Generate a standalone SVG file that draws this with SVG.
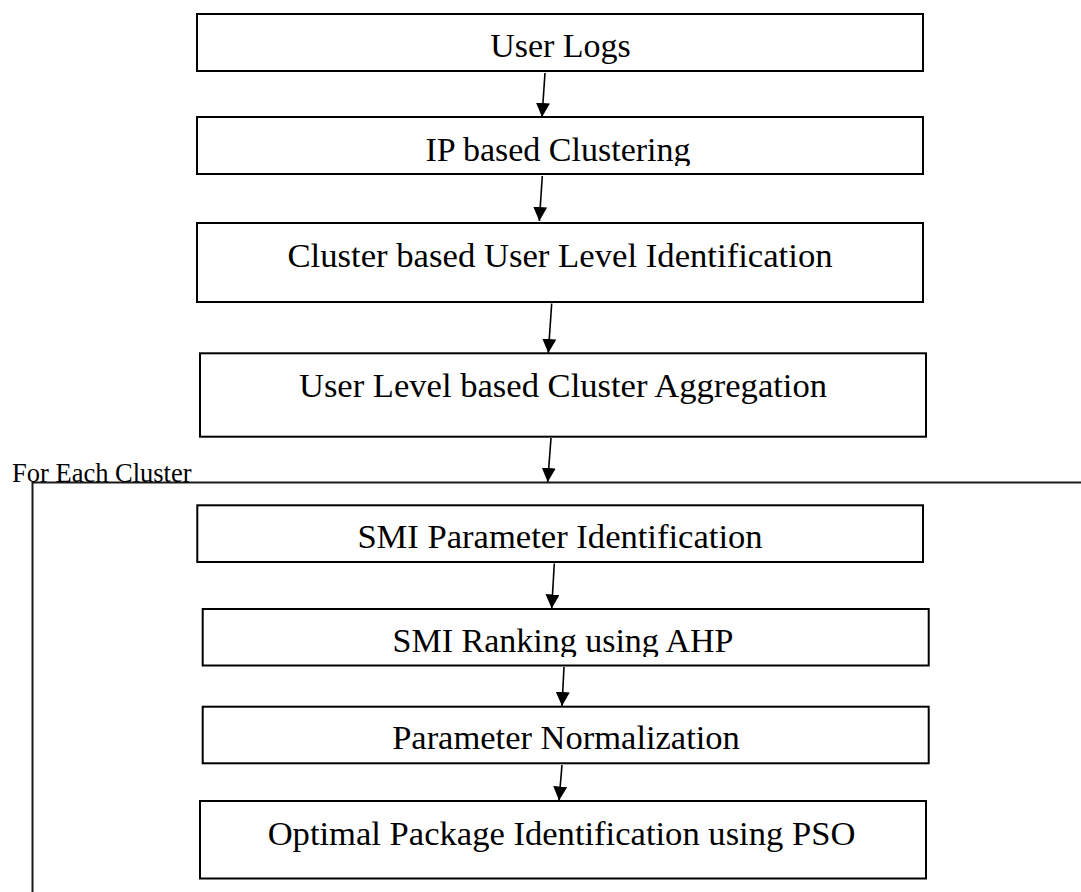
<svg xmlns="http://www.w3.org/2000/svg" width="1081" height="892" viewBox="0 0 1081 892">
  <style>
    .box { fill: #ffffff; stroke: #000000; stroke-width: 2; }
    .lbl { font-family: "Liberation Serif", "Times New Roman", serif; fill: #000000; text-anchor: middle; }
    .conn { stroke: #000000; stroke-width: 1.6; fill: none; marker-end: url(#arrow); }
    .frame { stroke: #1a1a1a; stroke-width: 2; fill: none; }
  </style>
  <defs>
    <marker id="arrow" markerUnits="userSpaceOnUse" markerWidth="14" markerHeight="14" viewBox="0 0 14 14" refX="14" refY="7" orient="auto">
      <path d="M0,0 L14,7 L0,14 Z" fill="#000000"/>
    </marker>
    <clipPath id="clip2"><rect x="197" y="117" width="726" height="49"/></clipPath>
    <clipPath id="clip6"><rect x="203" y="609" width="726" height="48"/></clipPath>
  </defs>
  <rect width="1081" height="892" fill="#ffffff"/>

  <g id="loop-frame">
    <path class="frame" d="M1081,482.5 L32.5,482.5 L32.5,892"/>
    <text x="12" y="481.5" font-family="Liberation Serif, serif" font-size="26.5">For Each Cluster</text>
  </g>

  <g id="node-user-logs">
    <rect class="box" x="197" y="14" width="726" height="57"/>
    <text class="lbl" x="560.5" y="57" font-size="34">User Logs</text>
  </g>
  <g id="node-ip-clustering">
    <rect class="box" x="197" y="117" width="726" height="57"/>
    <text class="lbl" x="558" y="160.7" font-size="34" clip-path="url(#clip2)">IP based Clustering</text>
  </g>
  <g id="node-user-level-id">
    <rect class="box" x="197" y="223" width="726" height="79"/>
    <text class="lbl" x="560" y="266.7" font-size="34.7">Cluster based User Level Identification</text>
  </g>
  <g id="node-cluster-aggregation">
    <rect class="box" x="200" y="353.3" width="726" height="83.4"/>
    <text class="lbl" x="563" y="396.7" font-size="34.6">User Level based Cluster Aggregation</text>
  </g>
  <g id="node-smi-param">
    <rect class="box" x="197.3" y="505.3" width="725.7" height="56.7"/>
    <text class="lbl" x="560" y="548.3" font-size="34.6">SMI Parameter Identification</text>
  </g>
  <g id="node-smi-ranking">
    <rect class="box" x="202.7" y="609" width="726" height="56.5"/>
    <text class="lbl" x="563" y="652.3" font-size="34" clip-path="url(#clip6)">SMI Ranking using AHP</text>
  </g>
  <g id="node-normalization">
    <rect class="box" x="202.7" y="706.7" width="726" height="56.6"/>
    <text class="lbl" x="566" y="749" font-size="34.5">Parameter Normalization</text>
  </g>
  <g id="node-pso">
    <rect class="box" x="200" y="801" width="726" height="77.5"/>
    <text class="lbl" x="561.5" y="845" font-size="34.6">Optimal Package Identification using PSO</text>
  </g>

  <g id="connectors">
    <line class="conn" x1="545" y1="73" x2="542" y2="117"/>
    <line class="conn" x1="542.3" y1="176" x2="539.3" y2="221"/>
    <line class="conn" x1="551.7" y1="303.5" x2="548.3" y2="353"/>
    <line class="conn" x1="551" y1="438" x2="547.7" y2="482"/>
    <line class="conn" x1="554.3" y1="563.5" x2="551.7" y2="608.5"/>
    <line class="conn" x1="564" y1="667" x2="562" y2="706"/>
    <line class="conn" x1="562" y1="765" x2="559" y2="800.5"/>
  </g>
</svg>
